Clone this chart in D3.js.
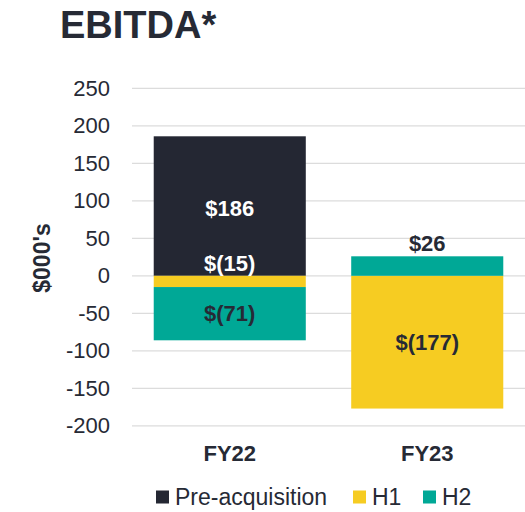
<!DOCTYPE html>
<html>
<head>
<meta charset="utf-8">
<script src="https://cdn.jsdelivr.net/npm/d3@7"></script>
<style>
  body { margin: 0; background: #fff; }
  svg { font-family: "Liberation Sans", Arial, sans-serif; }
</style>
</head>
<body>
<svg id="chart" width="525" height="512"></svg>
<script>
// chart data
const years = ["FY22", "FY23"];
const series = ["Pre-acquisition", "H1", "H2"];
const preAcq = [186, 0];
const h1 = [-15, -177];
const h2 = [-71, 26];
const yTicks = [250, 200, 150, 100, 50, 0, -50, -100, -150, -200];

const colors = { "Pre-acquisition": "#242733", H1: "#f6cc22", H2: "#00a896" };
const textDark = "#262a35";

const svg = d3.select("#chart");

const x = d3.scaleBand().domain(years).range([132, 525])
  .paddingInner(0.23).paddingOuter(0.11);
const y = d3.scaleLinear().domain([-200, 250]).range([425.8, 88.3]);

// gridlines
svg.append("g")
  .selectAll("line")
  .data(yTicks)
  .join("line")
  .attr("x1", 132).attr("x2", 525)
  .attr("y1", d => y(d)).attr("y2", d => y(d))
  .attr("stroke", "#dcdcdc").attr("stroke-width", 1.2);

// y axis labels (plain hyphen minus like the original)
const gy = svg.append("g").attr("transform", "translate(110,0)")
  .call(d3.axisLeft(y).tickValues(yTicks).tickSize(0).tickPadding(0)
    .tickFormat(d => String(d)));
gy.select(".domain").remove();
gy.selectAll(".tick text")
  .attr("fill", textDark)
  .style("font-size", "22px")
  .style("font-family", "Liberation Sans, Arial, sans-serif");

// stacked segments: positives stack up, negatives stack down
const rows = years.map((yr, i) => ({
  year: yr, "Pre-acquisition": preAcq[i], H1: h1[i], H2: h2[i]
}));
const stacked = d3.stack().keys(series).offset(d3.stackOffsetDiverging)(rows);

stacked.forEach(layer => {
  svg.append("g")
    .selectAll("rect")
    .data(layer)
    .join("rect")
    .attr("x", d => x(d.data.year))
    .attr("width", x.bandwidth())
    .attr("y", d => y(Math.max(d[0], d[1])))
    .attr("height", d => Math.abs(y(d[0]) - y(d[1])))
    .attr("fill", colors[layer.key]);
});

// value labels
const fmt = v => v < 0 ? `$(${Math.abs(v)})` : `$${v}`;
const labels = [
  { year: "FY22", value: preAcq[0], at: 90, fill: "#fff" },
  { year: "FY22", value: h1[0], at: 17, fill: "#fff" },
  { year: "FY22", value: h2[0], at: -50, fill: textDark },
  { year: "FY23", value: h2[1], at: 44, fill: textDark },
  { year: "FY23", value: h1[1], at: -89, fill: textDark }
];
svg.append("g")
  .selectAll("text")
  .data(labels)
  .join("text")
  .attr("x", d => x(d.year) + x.bandwidth() / 2)
  .attr("y", d => y(d.at))
  .attr("dy", "0.35em")
  .attr("text-anchor", "middle")
  .attr("fill", d => d.fill)
  .style("font-size", "22px")
  .style("font-weight", "bold")
  .text(d => fmt(d.value));

// category labels
svg.append("g")
  .selectAll("text")
  .data(years)
  .join("text")
  .attr("x", d => x(d) + x.bandwidth() / 2)
  .attr("y", 461)
  .attr("text-anchor", "middle")
  .attr("fill", textDark)
  .style("font-size", "22px")
  .style("font-weight", "bold")
  .text(d => d);

// y axis title
svg.append("text")
  .attr("transform", "translate(50,258) rotate(-90)")
  .attr("text-anchor", "middle")
  .attr("fill", textDark)
  .style("font-size", "23px")
  .style("font-weight", "bold")
  .text("$000's");

// title
svg.append("text")
  .attr("x", 60).attr("y", 38)
  .attr("fill", textDark)
  .style("font-size", "38px")
  .style("font-weight", "bold")
  .text("EBITDA*");

// legend
const legendX = [156, 353, 423];
const lg = svg.append("g")
  .selectAll("g")
  .data(series)
  .join("g")
  .attr("transform", (d, i) => `translate(${legendX[i]},497)`);
lg.append("rect")
  .attr("x", 0).attr("y", -6.5)
  .attr("width", 13).attr("height", 13)
  .attr("fill", d => colors[d]);
lg.append("text")
  .attr("x", 19).attr("dy", "0.35em")
  .attr("fill", textDark)
  .style("font-size", "23px")
  .text(d => d);
</script>
</body>
</html>
